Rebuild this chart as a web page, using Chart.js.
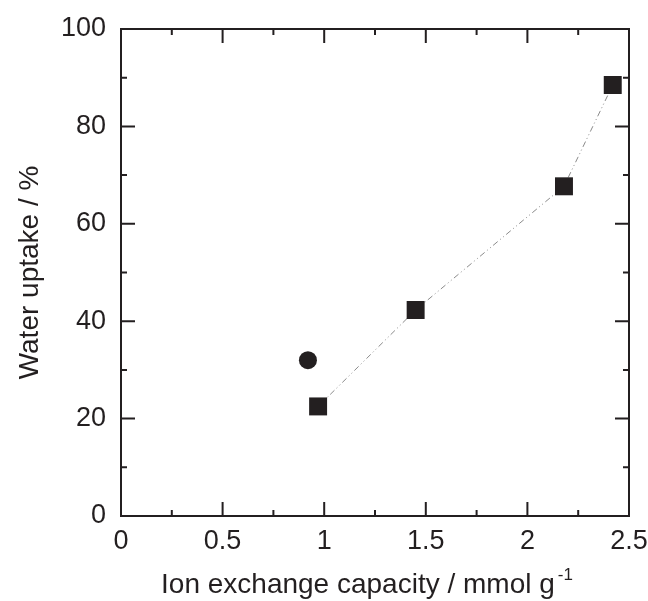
<!DOCTYPE html>
<html>
<head>
<meta charset="utf-8">
<script src="https://cdn.jsdelivr.net/npm/chart.js@4/dist/chart.umd.min.js"></script>
<style>
  html, body { margin: 0; padding: 0; background: #fff; }
</style>
</head>
<body>
<canvas id="uptakeChart" width="648" height="601"></canvas>
<script>
// membrane data
const iecSquares = [0.97, 1.45, 2.18, 2.42];
const uptakeSquares = [22.5, 42.3, 67.7, 88.5];
const iecCircle = [0.92];
const uptakeCircle = [32.0];

const xTickLabels = ['0', '0.5', '1', '1.5', '2', '2.5'];
const yTickLabels = ['0', '20', '40', '60', '80', '100'];

const xTitle = 'Ion exchange capacity / mmol g';
const xTitleSup = '-1';
const yTitle = 'Water uptake / %';

const ink = '#231f20';
const fontFamily = '"Liberation Sans", Arial, Helvetica, sans-serif';

function toPoints(xs, ys) {
    return xs.map((x, i) => ({ x: x, y: ys[i] }));
}

// box round the plot with inward ticks on all four sides
const frameTicks = {
    id: 'frameTicks',
    afterDraw(chart) {
        const { ctx, chartArea: a, scales } = chart;
        const majorLen = 14, minorLen = 6;
        ctx.save();
        ctx.strokeStyle = ink;
        ctx.lineWidth = 2;
        ctx.strokeRect(a.left, a.top, a.right - a.left, a.bottom - a.top);

        const marks = (scale) => {
            const vals = scale.ticks.map(t => t.value);
            const out = vals.map(v => ({ v: v, major: true }));
            for (let i = 0; i < vals.length - 1; i++) {
                out.push({ v: (vals[i] + vals[i + 1]) / 2, major: false });
            }
            return out;
        };

        ctx.beginPath();
        marks(scales.x).forEach(m => {
            const px = scales.x.getPixelForValue(m.v);
            const len = m.major ? majorLen : minorLen;
            ctx.moveTo(px, a.bottom); ctx.lineTo(px, a.bottom - len);
            ctx.moveTo(px, a.top); ctx.lineTo(px, a.top + len);
        });
        marks(scales.y).forEach(m => {
            const py = scales.y.getPixelForValue(m.v);
            const len = m.major ? majorLen : minorLen;
            ctx.moveTo(a.left, py); ctx.lineTo(a.left + len, py);
            ctx.moveTo(a.right, py); ctx.lineTo(a.right - len, py);
        });
        ctx.stroke();

        // x title with superscript
        ctx.fillStyle = ink;
        ctx.textBaseline = 'alphabetic';
        ctx.textAlign = 'left';
        ctx.font = '28px ' + fontFamily;
        const w1 = ctx.measureText(xTitle).width;
        ctx.font = '17px ' + fontFamily;
        const w2 = ctx.measureText(xTitleSup).width;
        const start = (a.left + a.right) / 2 - (w1 + w2 + 3) / 2 - 8;
        const base = 593;
        ctx.font = '28px ' + fontFamily;
        ctx.fillText(xTitle, start, base);
        ctx.font = '17px ' + fontFamily;
        ctx.fillText(xTitleSup, start + w1 + 3, base - 13);
        ctx.restore();
    }
};

new Chart(document.getElementById('uptakeChart'), {
    type: 'scatter',
    data: {
        datasets: [
            {
                label: 'squares',
                data: toPoints(iecSquares, uptakeSquares),
                showLine: true,
                borderColor: '#8a8a8a',
                borderWidth: 1,
                borderDash: [6, 3, 1, 3, 1, 3],
                pointStyle: 'rect',
                pointRadius: 12.7,
                pointBackgroundColor: ink,
                pointBorderColor: ink,
                pointBorderWidth: 0
            },
            {
                label: 'circle',
                data: toPoints(iecCircle, uptakeCircle),
                pointStyle: 'circle',
                pointRadius: 9,
                pointBackgroundColor: ink,
                pointBorderColor: ink,
                pointBorderWidth: 0
            }
        ]
    },
    options: {
        responsive: false,
        animation: false,
        layout: { padding: { left: 0, right: 19, top: 29, bottom: 0 } },
        plugins: {
            legend: { display: false },
            tooltip: { enabled: false }
        },
        scales: {
            x: {
                type: 'linear',
                min: 0,
                max: 2.5,
                grid: { display: false, drawTicks: false },
                border: { display: false },
                ticks: {
                    stepSize: 0.5,
                    color: ink,
                    padding: 9,
                    font: { family: fontFamily, size: 27 },
                    callback: (v, i) => xTickLabels[i]
                },
                afterFit(scale) {
                    scale.height = 85;
                    scale.paddingLeft = 0;
                    scale.paddingRight = 0;
                }
            },
            y: {
                type: 'linear',
                min: 0,
                max: 100,
                grid: { display: false, drawTicks: false },
                border: { display: false },
                ticks: {
                    stepSize: 20,
                    color: ink,
                    padding: 15,
                    font: { family: fontFamily, size: 27 },
                    callback: (v, i) => yTickLabels[i]
                },
                title: {
                    display: true,
                    text: yTitle,
                    color: ink,
                    padding: { top: 13, bottom: 0 },
                    font: { family: fontFamily, size: 28 }
                },
                afterFit(scale) {
                    scale.width = 121;
                    scale.paddingTop = 0;
                    scale.paddingBottom = 0;
                }
            }
        }
    },
    plugins: [frameTicks]
});
</script>
</body>
</html>
